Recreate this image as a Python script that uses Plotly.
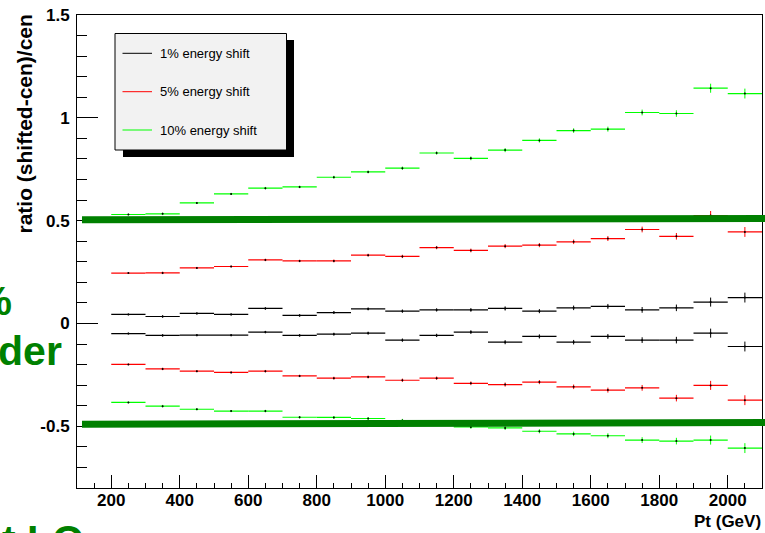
import plotly.graph_objects as go

# ---------------- data ----------------
pt_centers = [250, 350, 450, 550, 650, 750, 850, 950, 1050, 1150,
              1250, 1350, 1450, 1550, 1650, 1750, 1850, 1950, 2050]
bin_half_width = 50

shift1_up = [0.044, 0.034, 0.049, 0.044, 0.073, 0.039, 0.053, 0.071, 0.060, 0.066,
             0.066, 0.073, 0.060, 0.076, 0.083, 0.066, 0.076, 0.104, 0.126]
shift1_down = [-0.049, -0.058, -0.057, -0.057, -0.042, -0.058, -0.052, -0.047, -0.081, -0.058,
               -0.042, -0.091, -0.063, -0.091, -0.063, -0.081, -0.081, -0.047, -0.112]
shift5_up = [0.245, 0.246, 0.270, 0.277, 0.309, 0.304, 0.304, 0.332, 0.326, 0.369,
             0.355, 0.376, 0.381, 0.397, 0.413, 0.457, 0.424, 0.525, 0.445]
shift5_down = [-0.199, -0.221, -0.232, -0.238, -0.232, -0.255, -0.266, -0.260, -0.276, -0.266,
               -0.291, -0.297, -0.285, -0.308, -0.324, -0.313, -0.363, -0.301, -0.373]
shift10_up = [0.530, 0.533, 0.586, 0.630, 0.658, 0.664, 0.711, 0.737, 0.755, 0.829,
              0.803, 0.843, 0.890, 0.938, 0.945, 1.026, 1.021, 1.144, 1.118]
shift10_down = [-0.384, -0.402, -0.417, -0.426, -0.426, -0.456, -0.457, -0.462, -0.472, -0.486,
                -0.503, -0.508, -0.524, -0.537, -0.546, -0.567, -0.572, -0.567, -0.606]
stat_err = [0.004, 0.006, 0.005, 0.005, 0.006, 0.006, 0.007, 0.007, 0.008, 0.008,
            0.009, 0.010, 0.010, 0.011, 0.012, 0.014, 0.016, 0.022, 0.024]

legend_labels = ["1% energy shift", "5% energy shift", "10% energy shift"]
series_colors = ["#000000", "#ff0000", "#00ff00"]
band_levels = [(0.504, 0.510), (-0.490, -0.482)]

x_tickvals = [200, 400, 600, 800, 1000, 1200, 1400, 1600, 1800, 2000]
y_tickvals = [-0.5, 0, 0.5, 1, 1.5]
y_ticktext = ["-0.5", "0", "0.5", "1", "1.5"]

X_RANGE = [100, 2100]
Y_RANGE = [-0.8, 1.5]

# ---------------- layout geometry (pixels) ----------------
W, H = 765, 533
ML, MR, MT, MB = 77, 3, 15, 45
PW, PH = W - ML - MR, H - MT - MB

def pxx(x):
    return (x - ML) / PW

def pxy(y):
    return (H - MB - y) / PH

def yval_paper(v):
    return (v - Y_RANGE[0]) / (Y_RANGE[1] - Y_RANGE[0])

FONT = "Liberation Sans"
GREEN = "#008000"

fig = go.Figure()

series = [(shift1_up, 0), (shift1_down, 0), (shift5_up, 1), (shift5_down, 1),
          (shift10_up, 2), (shift10_down, 2)]
for vals, ci in series:
    col = series_colors[ci]
    fig.add_trace(go.Scatter(
        x=pt_centers, y=vals, mode="markers",
        marker=dict(color="#000000", size=2),
        error_x=dict(type="constant", value=bin_half_width, color=col, thickness=1.2, width=0),
        error_y=dict(type="data", array=stat_err, color=col, thickness=1, width=0),
        showlegend=False, hoverinfo="skip", cliponaxis=True,
    ))

shapes = []
# thick green bands (overlay)
for (vl, vr) in band_levels:
    shapes.append(dict(type="line", xref="paper", yref="paper",
                       x0=pxx(82), x1=pxx(766), y0=yval_paper(vl), y1=yval_paper(vr),
                       line=dict(color=GREEN, width=7), layer="above"))

# legend box with shadow
shapes.append(dict(type="rect", xref="paper", yref="paper",
                   x0=pxx(123), x1=pxx(294), y0=pxy(40), y1=pxy(157),
                   fillcolor="#000000", line=dict(width=0)))
shapes.append(dict(type="rect", xref="paper", yref="paper",
                   x0=pxx(115), x1=pxx(286.5), y0=pxy(33.5), y1=pxy(150),
                   fillcolor="#f2f2f2", line=dict(color="#000000", width=1)))
annotations = []
for i, (lab, col) in enumerate(zip(legend_labels, series_colors)):
    yy = [53.3, 91.7, 130][i]
    shapes.append(dict(type="line", xref="paper", yref="paper",
                       x0=pxx(122.5), x1=pxx(152), y0=pxy(yy), y1=pxy(yy),
                       line=dict(color=col, width=1)))
    annotations.append(dict(xref="paper", yref="paper", x=pxx(158), y=pxy(yy),
                            text=lab, showarrow=False, xanchor="left", yanchor="middle",
                            font=dict(family=FONT, size=13, color="#000000")))

# axis titles
annotations.append(dict(xref="paper", yref="paper", x=pxx(24), y=pxy(13),
                        text="ratio (shifted-cen)/cen", textangle=-90, showarrow=False,
                        xanchor="center", yanchor="top",
                        font=dict(family=FONT, size=21, color="#000000", weight="bold")))
annotations.append(dict(xref="paper", yref="paper", x=pxx(763), y=pxy(521),
                        text="Pt (GeV)", showarrow=False, xanchor="right", yanchor="middle",
                        font=dict(family=FONT, size=17, color="#000000", weight="bold")))

# overlaid green slide text (partly outside the canvas)
annotations.append(dict(xref="paper", yref="paper", x=pxx(14), y=pxy(301),
                        text="50%", showarrow=False, xanchor="right", yanchor="middle",
                        font=dict(family=FONT, size=41, color=GREEN, weight="bold")))
annotations.append(dict(xref="paper", yref="paper", x=pxx(64), y=pxy(351),
                        text="border", showarrow=False, xanchor="right", yanchor="middle",
                        font=dict(family=FONT, size=41, color=GREEN, weight="bold")))
annotations.append(dict(xref="paper", yref="paper", x=pxx(86), y=pxy(540),
                        text="fit LO", showarrow=False, xanchor="right", yanchor="middle",
                        font=dict(family=FONT, size=41, color=GREEN, weight="bold")))

fig.update_layout(
    width=W, height=H,
    margin=dict(l=ML, r=MR, t=MT, b=MB, pad=0),
    paper_bgcolor="#ffffff", plot_bgcolor="#ffffff",
    showlegend=False,
    shapes=shapes, annotations=annotations,
    xaxis=dict(range=X_RANGE, tickvals=x_tickvals, ticks="inside", ticklen=13,
               tickwidth=1, tickcolor="#000000", showgrid=False, zeroline=False,
               showline=True, linecolor="#000000", linewidth=1, mirror=True,
               tickfont=dict(family=FONT, size=17, color="#000000", weight="bold"),
               ticklabelstandoff=-3,
               minor=dict(ticks="inside", ticklen=5, dtick=50, tick0=0,
                          tickcolor="#000000", showgrid=False)),
    yaxis=dict(range=Y_RANGE, tickvals=y_tickvals, ticktext=y_ticktext, ticks="inside",
               ticklen=21, tickwidth=1, tickcolor="#000000", showgrid=False, zeroline=False,
               showline=True, linecolor="#000000", linewidth=1, mirror=True,
               tickfont=dict(family=FONT, size=17, color="#000000", weight="bold"),
               ticklabelstandoff=3,
               minor=dict(ticks="inside", ticklen=10, dtick=0.1, tick0=0,
                          tickcolor="#000000", showgrid=False)),
)

fig.write_html("out.html", config={"displayModeBar": False},
               post_script="document.body.style.margin='0';document.body.style.overflow='hidden';")
